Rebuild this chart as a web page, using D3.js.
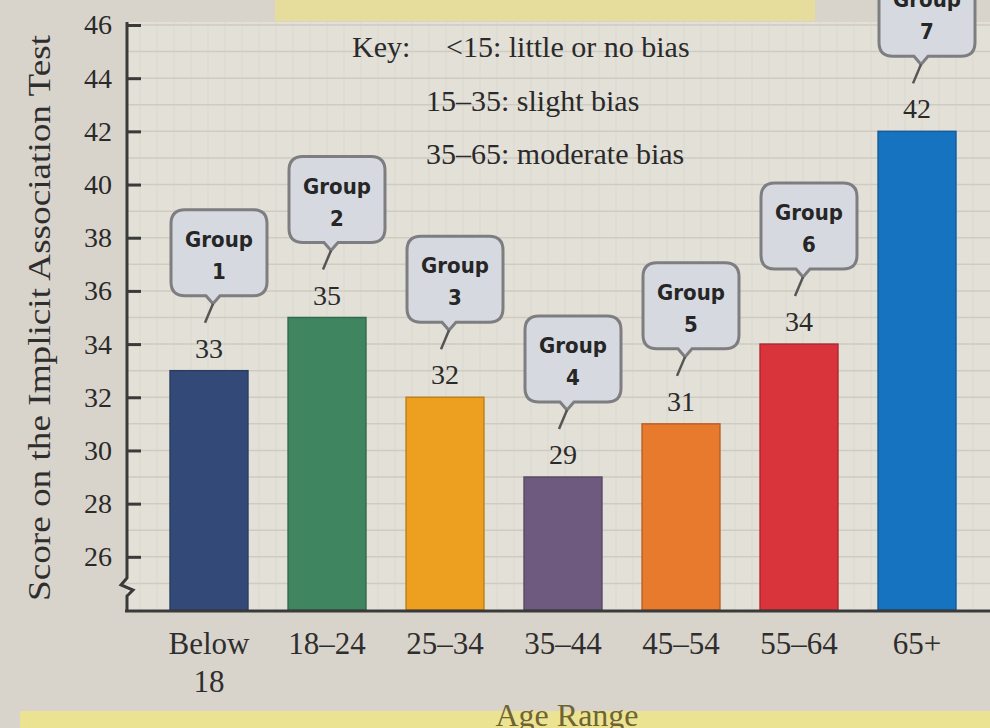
<!DOCTYPE html>
<html>
<head>
<meta charset="utf-8">
<script src="https://cdn.jsdelivr.net/npm/d3@7"></script>
<style>
  body { margin: 0; background: #d9d4cb; }
  svg { display: block; }
</style>
</head>
<body>
<div id="chart"></div>
<script>
var ageRanges = ["Below 18", "18–24", "25–34", "35–44", "45–54", "55–64", "65+"];
var scores = [33, 35, 32, 29, 31, 34, 42];
var groupNumbers = ["1", "2", "3", "4", "5", "6", "7"];
var barColors = ["#334a78", "#3f8560", "#eda020", "#6d5a7e", "#e87a2e", "#d9333c", "#1673c0"];
var yTicks = [26, 28, 30, 32, 34, 36, 38, 40, 42, 44, 46];
var keyLabel = "Key:";
var keyLines = ["<15: little or no bias", "15–35: slight bias", "35–65: moderate bias"];

function init() {
    var w = 990;
    var h = 728;
    var serif = "'Liberation Serif', 'DejaVu Serif', serif";
    var sans = "'DejaVu Sans Condensed', 'DejaVu Sans', sans-serif";

    var svg = d3.select("#chart")
        .append("svg")
        .attr("width", w)
        .attr("height", h);

    // page background, with the yellow bands of the photo
    svg.append("rect").attr("width", w).attr("height", h).attr("fill", "#d9d4cb");
    svg.append("rect").attr("x", 275).attr("y", 0).attr("width", 540).attr("height", 21).attr("fill", "#e6dd9c");
    svg.append("rect").attr("x", 20).attr("y", 711).attr("width", 970).attr("height", 17).attr("fill", "#ece392");
    svg.append("rect").attr("x", 127).attr("y", 22).attr("width", w - 127).attr("height", 589).attr("fill", "#e3e0d8");

    var x = d3.scaleBand()
        .domain(ageRanges)
        .range([150, 976])
        .paddingInner(0.34)
        .paddingOuter(0.17);

    var y = d3.scaleLinear()
        .domain([24, 46])
        .range([610, 25]);

    // faint grid
    var grid = svg.append("g");
    grid.selectAll("line.h")
        .data(d3.range(25, 47))
        .enter()
        .append("line")
        .attr("x1", 127).attr("x2", w)
        .attr("y1", function (d) { return y(d); })
        .attr("y2", function (d) { return y(d); })
        .attr("stroke", "#d0cbc1")
        .attr("stroke-width", 1.5);
    grid.selectAll("line.v")
        .data(d3.range(140, w, 17))
        .enter()
        .append("line")
        .attr("x1", function (d) { return d; })
        .attr("x2", function (d) { return d; })
        .attr("y1", 22).attr("y2", 610)
        .attr("stroke", "#d6d2c9")
        .attr("stroke-width", 1)
        .attr("opacity", 0.5);

    // bars
    svg.selectAll("rect.bar")
        .data(scores)
        .enter()
        .append("rect")
        .attr("class", "bar")
        .attr("x", function (d, i) { return x(ageRanges[i]); })
        .attr("y", function (d) { return y(d); })
        .attr("width", x.bandwidth())
        .attr("height", function (d) { return y(24) - y(d); })
        .attr("fill", function (d, i) { return barColors[i]; })
        .attr("stroke", function (d, i) { return d3.color(barColors[i]).darker(0.6); })
        .attr("stroke-width", 1.5);

    // value labels
    svg.selectAll("text.val")
        .data(scores)
        .enter()
        .append("text")
        .attr("x", function (d, i) { return x(ageRanges[i]) + x.bandwidth() / 2; })
        .attr("y", function (d) { return y(d) - 13; })
        .attr("text-anchor", "middle")
        .attr("font-family", serif)
        .attr("font-size", 28)
        .attr("fill", "#2a2a2a")
        .text(function (d) { return d; });

    // callouts "Group n"
    var bw = 96, bh = 86, r = 14;
    var callouts = svg.selectAll("g.callout")
        .data(scores)
        .enter()
        .append("g")
        .attr("transform", function (d, i) {
            var cx = x(ageRanges[i]) + x.bandwidth() / 2 + 10;
            return "translate(" + cx + "," + (y(d) - 75 - bh) + ")";
        });

    callouts.append("path")
        .attr("d", function () {
            var l = -bw / 2, rt = bw / 2, nx = -6;
            return "M" + (l + r) + ",0 H" + (rt - r) +
                " Q" + rt + ",0 " + rt + "," + r +
                " V" + (bh - r) +
                " Q" + rt + "," + bh + " " + (rt - r) + "," + bh +
                " H" + (nx + 7) + " L" + nx + "," + (bh + 8) + " L" + (nx - 7) + "," + bh +
                " H" + (l + r) +
                " Q" + l + "," + bh + " " + l + "," + (bh - r) +
                " V" + r +
                " Q" + l + ",0 " + (l + r) + ",0 Z";
        })
        .attr("fill", "#d6d9e0")
        .attr("stroke", "#7e7e80")
        .attr("stroke-width", 3);

    callouts.append("line")
        .attr("x1", -6).attr("y1", bh + 8)
        .attr("x2", -14).attr("y2", bh + 27)
        .attr("stroke", "#555")
        .attr("stroke-width", 2.5);

    callouts.append("text")
        .attr("y", 37)
        .attr("text-anchor", "middle")
        .attr("font-family", sans)
        .attr("font-weight", "bold")
        .attr("font-size", 22)
        .attr("fill", "#262626")
        .text("Group");

    callouts.append("text")
        .attr("y", 69)
        .attr("text-anchor", "middle")
        .attr("font-family", sans)
        .attr("font-weight", "bold")
        .attr("font-size", 22)
        .attr("fill", "#262626")
        .text(function (d, i) { return groupNumbers[i]; });

    // y axis, ticks pointing inward
    var yAxis = d3.axisLeft(y)
        .tickValues(yTicks)
        .tickSizeInner(-14)
        .tickSizeOuter(0)
        .tickPadding(15);

    var gy = svg.append("g")
        .attr("transform", "translate(127,0)")
        .call(yAxis);
    gy.select(".domain").remove();
    gy.selectAll(".tick line").attr("stroke", "#3a3a3a").attr("stroke-width", 3);
    gy.selectAll(".tick text")
        .attr("font-family", serif)
        .attr("font-size", 28)
        .attr("fill", "#2a2a2a");

    // y axis line with a break near the bottom
    svg.append("path")
        .attr("d", "M127,22 V578 L121,585 L133,590 L127,596 V611")
        .attr("fill", "none")
        .attr("stroke", "#3a3a3a")
        .attr("stroke-width", 3);

    // x axis line
    svg.append("line")
        .attr("x1", 125).attr("x2", w)
        .attr("y1", 611).attr("y2", 611)
        .attr("stroke", "#3a3a3a")
        .attr("stroke-width", 3);

    // x tick labels, "Below 18" on two lines
    var xl = svg.selectAll("text.xl")
        .data(ageRanges)
        .enter()
        .append("text")
        .attr("text-anchor", "middle")
        .attr("font-family", serif)
        .attr("font-size", 31)
        .attr("fill", "#2e2e2e");
    xl.each(function (d) {
        var t = d3.select(this);
        var cx = x(d) + x.bandwidth() / 2;
        var parts = d.indexOf("Below") === 0 ? ["Below", d.slice(6)] : [d];
        parts.forEach(function (p, k) {
            t.append("tspan").attr("x", cx).attr("y", 654 + k * 38).text(p);
        });
    });

    // axis titles
    svg.append("text")
        .attr("transform", "translate(50,318) rotate(-90)")
        .attr("text-anchor", "middle")
        .attr("font-family", serif)
        .attr("font-size", 32)
        .attr("textLength", 566)
        .attr("lengthAdjust", "spacingAndGlyphs")
        .attr("fill", "#2e2e2e")
        .text("Score on the Implicit Association Test");

    svg.append("text")
        .attr("x", 567).attr("y", 726)
        .attr("text-anchor", "middle")
        .attr("font-family", serif)
        .attr("font-size", 32)
        .attr("fill", "#6e6434")
        .text("Age Range");

    // key
    svg.append("text")
        .attr("x", 352).attr("y", 57)
        .attr("font-family", serif)
        .attr("font-size", 30)
        .attr("fill", "#2a2a2a")
        .text(keyLabel);

    svg.selectAll("text.key")
        .data(keyLines)
        .enter()
        .append("text")
        .attr("x", function (d, i) { return i === 0 ? 446 : 426; })
        .attr("y", function (d, i) { return 57 + i * 53.5; })
        .attr("font-family", serif)
        .attr("font-size", 30)
        .attr("fill", "#2a2a2a")
        .text(function (d) { return d; });
}

window.onload = init;
</script>
</body>
</html>
